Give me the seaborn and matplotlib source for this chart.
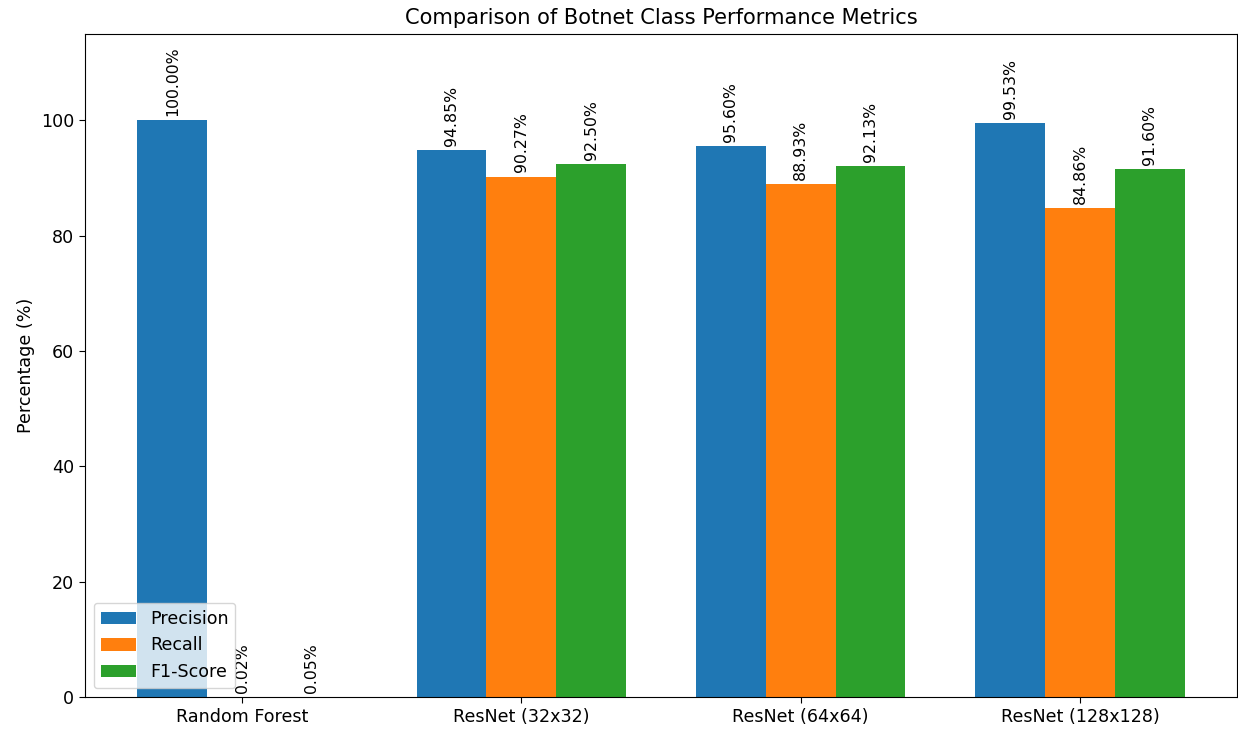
import matplotlib
matplotlib.use("Agg")
import matplotlib.pyplot as plt
import seaborn as sns
import pandas as pd

models = ["Random Forest", "ResNet (32x32)", "ResNet (64x64)", "ResNet (128x128)"]
metrics = ["Precision", "Recall", "F1-Score"]
precision = [100.00, 94.85, 95.60, 99.53]
recall = [0.02, 90.27, 88.93, 84.86]
f1_score = [0.05, 92.50, 92.13, 91.60]
colors = ["#1f77b4", "#ff7f0e", "#2ca02c"]

df = pd.DataFrame({
    "Model": models * 3,
    "Metric": [m for m in metrics for _ in models],
    "Value": precision + recall + f1_score,
})

plt.rcParams.update({
    "font.size": 12.6,
    "xtick.major.size": 4.4,
    "ytick.major.size": 4.4,
})

fig = plt.figure(figsize=(12.38, 7.29), dpi=100)
ax = fig.add_axes([85 / 1238, 32 / 729, 1152 / 1238, 663 / 729])

sns.barplot(data=df, x="Model", y="Value", hue="Metric", order=models,
            hue_order=metrics, palette=colors, width=0.75, saturation=1,
            errorbar=None, ax=ax)

for container in ax.containers:
    vals = [b.get_height() for b in container]
    ax.bar_label(container, labels=[f"{v:.2f}%" for v in vals],
                 rotation=90, padding=3, fontsize=11.3)

ax.set_xlim(-0.5625, 3.5625)
ax.set_ylim(0, 115)
ax.set_yticks([0, 20, 40, 60, 80, 100])
ax.tick_params(labelsize=12.6)
ax.set_xlabel("")
ax.set_ylabel("Percentage (%)", fontsize=12.6)
ax.set_title("Comparison of Botnet Class Performance Metrics", fontsize=15.1, pad=7)
ax.legend(loc="lower left", fontsize=12.6)

fig.savefig("out.png", dpi=100)
